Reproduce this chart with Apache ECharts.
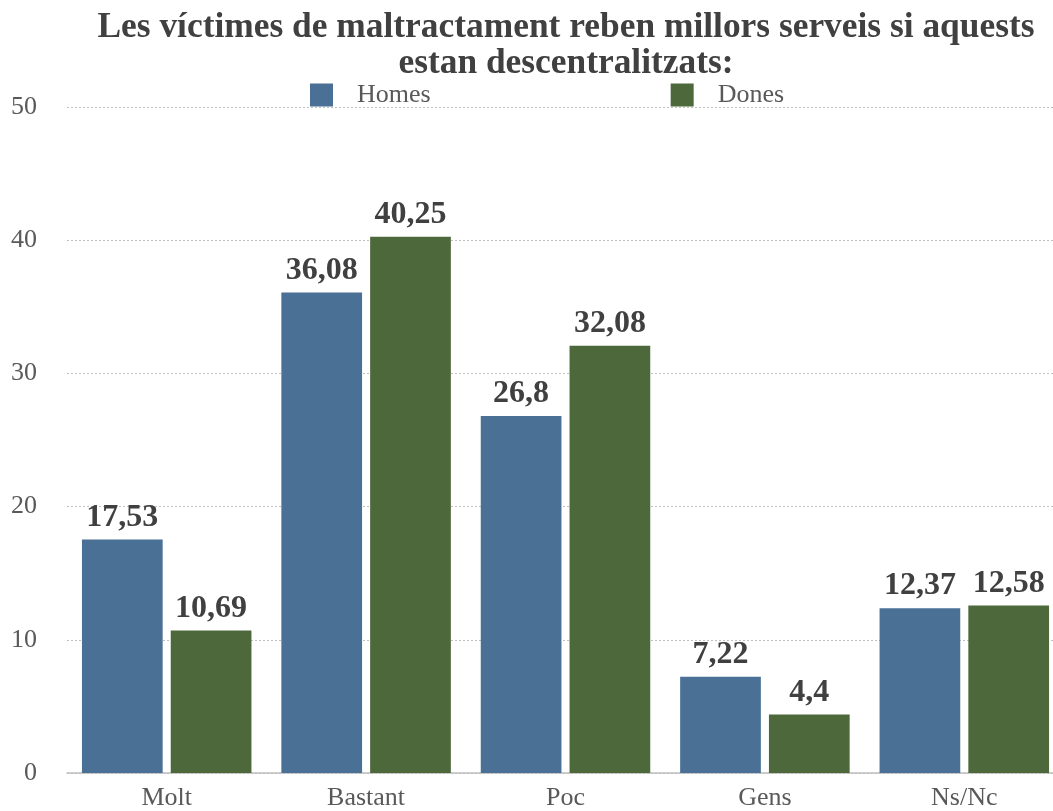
<!DOCTYPE html>
<html>
<head>
<meta charset="utf-8">
<script src="https://cdn.jsdelivr.net/npm/echarts@6/dist/echarts.min.js"></script>
<style>
  html, body { margin: 0; padding: 0; background: #fff; overflow: hidden; }
  #chart { width: 1080px; height: 811px; }
</style>
</head>
<body>
<div id="chart"></div>
<script>
const categories = ['Molt', 'Bastant', 'Poc', 'Gens', 'Ns/Nc']
const homes = [17.53, 36.08, 26.8, 7.22, 12.37]
const dones = [10.69, 40.25, 32.08, 4.4, 12.58]

const font = 'Liberation Serif'
const fmt = (p) => String(p.value).replace('.', ',')

// the original plot runs past the right edge of the picture, so the canvas is wider than the window
const chart = echarts.init(document.getElementById('chart'))
chart.setOption({
  animation: false,
  title: {
    text: 'Les víctimes de maltractament reben millors serveis si aquests\nestan descentralitzats:',
    left: 561,
    textAlign: 'center',
    top: 5,
    textStyle: {
      fontFamily: font,
      fontWeight: 'bold',
      fontSize: 35.4,
      lineHeight: 36,
      color: '#404040',
    },
  },
  legend: {
    left: 310,
    top: 82,
    padding: 0,
    itemWidth: 23,
    itemHeight: 23,
    itemGap: 240,
    icon: 'rect',
    textStyle: {
      fontFamily: font,
      fontSize: 26,
      color: '#595959',
      padding: [0, 0, 0, 19],
    },
    data: ['Homes', 'Dones'],
  },
  grid: {
    left: 67,
    top: 107,
    width: 997,
    bottom: 38,
    containLabel: false,
  },
  xAxis: {
    type: 'category',
    data: categories,
    axisLine: { lineStyle: { color: '#bfbfbf', width: 1.5 } },
    axisTick: { show: false },
    axisLabel: {
      fontFamily: font,
      fontSize: 26,
      color: '#595959',
      margin: 12,
    },
  },
  yAxis: {
    type: 'value',
    min: 0,
    max: 50,
    interval: 10,
    axisLine: { show: false },
    axisTick: { show: false },
    axisLabel: {
      fontFamily: font,
      fontSize: 26,
      color: '#595959',
      margin: 30,
    },
    splitLine: { lineStyle: { color: '#bfbfbf', type: [2, 2], width: 1 } },
  },
  series: [
    {
      name: 'Homes',
      type: 'bar',
      data: homes,
      barGap: '10%',
      barCategoryGap: '15%',
      itemStyle: { color: '#4a7096' },
      label: {
        show: true,
        position: 'top',
        distance: 6,
        formatter: fmt,
        fontFamily: font,
        fontWeight: 'bold',
        fontSize: 32,
        color: '#404040',
      },
    },
    {
      name: 'Dones',
      type: 'bar',
      data: dones,
      itemStyle: { color: '#4d693b' },
      label: {
        show: true,
        position: 'top',
        distance: 6,
        formatter: fmt,
        fontFamily: font,
        fontWeight: 'bold',
        fontSize: 32,
        color: '#404040',
      },
    },
  ],
})
</script>
</body>
</html>
